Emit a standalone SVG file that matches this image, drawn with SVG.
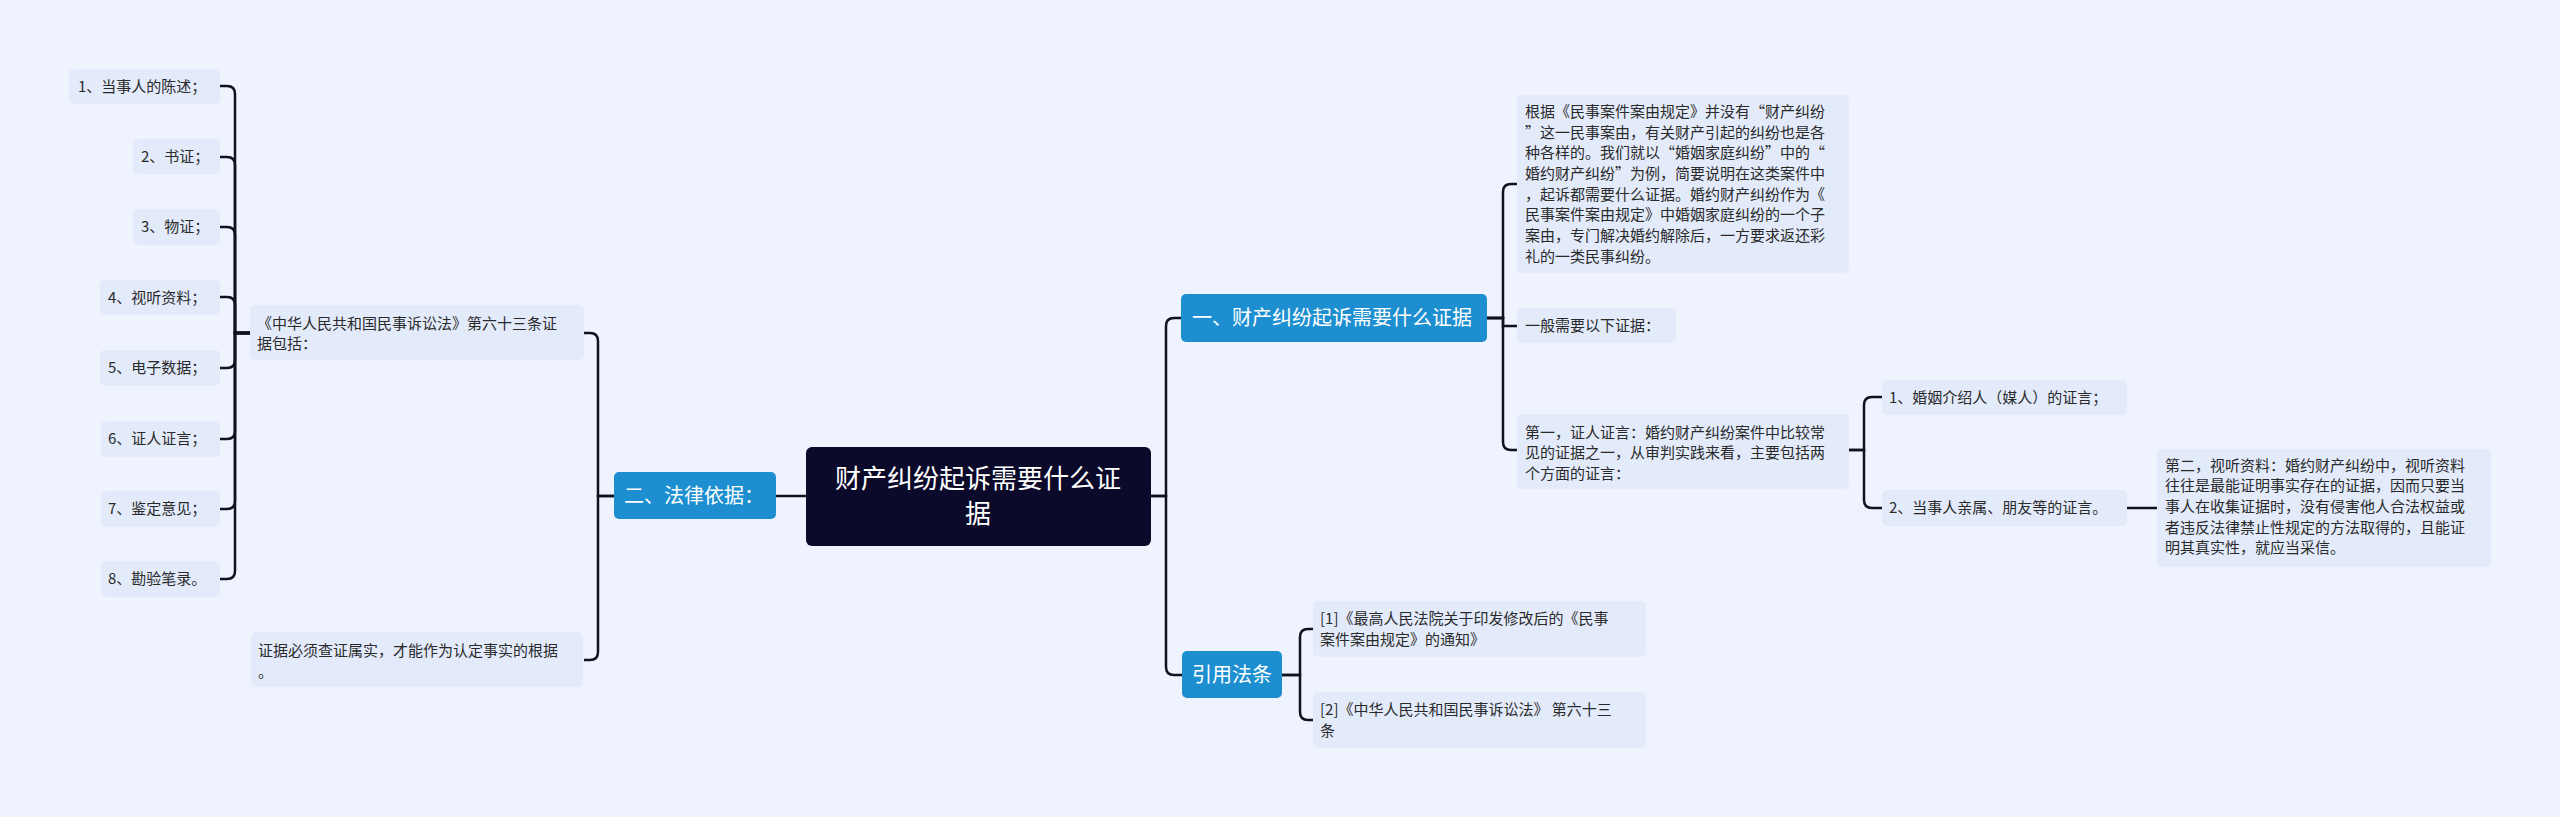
<svg xmlns="http://www.w3.org/2000/svg" width="2560" height="817" viewBox="0 0 2560 817">
<style>
text{font-family:"Noto Sans CJK SC","Liberation Sans",sans-serif;}
.leaf{fill:#e3ebfb;}
.lt{font-size:15px;fill:#2a2a2a;}
.blue{fill:#1d8fd0;}
.bt{font-size:20px;fill:#ffffff;}
.c{fill:none;stroke:#111122;stroke-width:2.5;}
</style>
<rect width="2560" height="817" fill="#eef3fe"/>
<g id="connectors">
<path class="c" d="M250,333H235V94Q235,86 227,86H220"/>
<path class="c" d="M250,333H235V165Q235,157 227,157H220"/>
<path class="c" d="M250,333H235V235Q235,227 227,227H220"/>
<path class="c" d="M250,333H235V305Q235,297 227,297H220"/>
<path class="c" d="M250,333H235V360Q235,368 227,368H220"/>
<path class="c" d="M250,333H235V431Q235,439 227,439H220"/>
<path class="c" d="M250,333H235V501Q235,509 227,509H220"/>
<path class="c" d="M250,333H235V571Q235,579 227,579H220"/>
<path class="c" d="M614,496H598V341Q598,333 590,333H584"/>
<path class="c" d="M614,496H598V652Q598,660 590,660H584"/>
<path class="c" d="M806,496H776"/>
<path class="c" d="M1151,496H1166V326Q1166,318 1174,318H1181"/>
<path class="c" d="M1151,496H1166V667Q1166,675 1174,675H1182"/>
<path class="c" d="M1487,318H1503V192Q1503,184 1511,184H1517"/>
<path class="c" d="M1487,318H1503V326H1517"/>
<path class="c" d="M1487,318H1503V442Q1503,450 1511,450H1517"/>
<path class="c" d="M1849,450H1864V405Q1864,397 1872,397H1882"/>
<path class="c" d="M1849,450H1864V500Q1864,508 1872,508H1882"/>
<path class="c" d="M2127,508H2157"/>
<path class="c" d="M1282,675H1300V637Q1300,629 1308,629H1313"/>
<path class="c" d="M1282,675H1300V712Q1300,720 1308,720H1313"/>
</g>
<g id="root"><rect x="806" y="447" width="345" height="99" rx="6" fill="#0b0a2a"/>
<text x="978" y="488" font-size="26" fill="#fff" text-anchor="middle">财产纠纷起诉需要什么证</text>
<text x="978" y="523" font-size="26" fill="#fff" text-anchor="middle">据</text></g>
<g id="n2"><rect class="blue" x="614" y="472" width="162" height="47" rx="5"/><text class="bt" x="624" y="503">二、法律依据：</text></g>
<g id="n1"><rect class="blue" x="1181" y="294" width="306" height="48" rx="5"/><text class="bt" x="1192" y="325">一、财产纠纷起诉需要什么证据</text></g>
<g id="n3"><rect class="blue" x="1182" y="651" width="100" height="47" rx="5"/><text class="bt" x="1192" y="682">引用法条</text></g>
<g id="i1"><rect class="leaf" x="69" y="69" width="151" height="35" rx="5"/><text class="lt" x="78" y="92">1、当事人的陈述；</text></g>
<g id="i2"><rect class="leaf" x="133" y="139" width="87" height="35" rx="5"/><text class="lt" x="141" y="162">2、书证；</text></g>
<g id="i3"><rect class="leaf" x="133" y="209" width="87" height="36" rx="5"/><text class="lt" x="141" y="232">3、物证；</text></g>
<g id="i4"><rect class="leaf" x="100" y="280" width="120" height="35" rx="5"/><text class="lt" x="108" y="303">4、视听资料；</text></g>
<g id="i5"><rect class="leaf" x="100" y="350" width="120" height="36" rx="5"/><text class="lt" x="108" y="373">5、电子数据；</text></g>
<g id="i6"><rect class="leaf" x="101" y="421" width="119" height="36" rx="5"/><text class="lt" x="108" y="444">6、证人证言；</text></g>
<g id="i7"><rect class="leaf" x="101" y="491" width="119" height="36" rx="5"/><text class="lt" x="108" y="514">7、鉴定意见；</text></g>
<g id="i8"><rect class="leaf" x="101" y="561" width="119" height="36" rx="5"/><text class="lt" x="108" y="584">8、勘验笔录。</text></g>
<g id="law"><rect class="leaf" x="250" y="305" width="334" height="55" rx="5"/>
<text class="lt" x="257" y="329">《中华人民共和国民事诉讼法》第六十三条证</text><text class="lt" x="257" y="349">据包括：</text></g>
<g id="verify"><rect class="leaf" x="251" y="632" width="332" height="55" rx="5"/>
<text class="lt" x="258" y="656">证据必须查证属实，才能作为认定事实的根据</text><text class="lt" x="258" y="677">。</text></g>
<g id="r1"><rect class="leaf" x="1517" y="95" width="332" height="178" rx="5"/>
<text class="lt" x="1525" y="117">根据《民事案件案由规定》并没有“财产纠纷</text>
<text class="lt" x="1525" y="138">”这一民事案由，有关财产引起的纠纷也是各</text>
<text class="lt" x="1525" y="158">种各样的。我们就以“婚姻家庭纠纷”中的“</text>
<text class="lt" x="1525" y="179">婚约财产纠纷”为例，简要说明在这类案件中</text>
<text class="lt" x="1525" y="200">，起诉都需要什么证据。婚约财产纠纷作为《</text>
<text class="lt" x="1525" y="220">民事案件案由规定》中婚姻家庭纠纷的一个子</text>
<text class="lt" x="1525" y="241">案由，专门解决婚约解除后，一方要求返还彩</text>
<text class="lt" x="1525" y="262">礼的一类民事纠纷。</text></g>
<g id="r2"><rect class="leaf" x="1517" y="308" width="159" height="35" rx="5"/><text class="lt" x="1525" y="331">一般需要以下证据：</text></g>
<g id="r3"><rect class="leaf" x="1517" y="414" width="332" height="75" rx="5"/>
<text class="lt" x="1525" y="438">第一，证人证言：婚约财产纠纷案件中比较常</text>
<text class="lt" x="1525" y="458">见的证据之一，从审判实践来看，主要包括两</text>
<text class="lt" x="1525" y="479">个方面的证言：</text></g>
<g id="w1"><rect class="leaf" x="1882" y="380" width="245" height="35" rx="5"/><text class="lt" x="1889" y="403">1、婚姻介绍人（媒人）的证言；</text></g>
<g id="w2"><rect class="leaf" x="1882" y="490" width="245" height="36" rx="5"/><text class="lt" x="1889" y="513">2、当事人亲属、朋友等的证言。</text></g>
<g id="av"><rect class="leaf" x="2157" y="449" width="334" height="118" rx="5"/>
<text class="lt" x="2165" y="471">第二，视听资料：婚约财产纠纷中，视听资料</text>
<text class="lt" x="2165" y="491">往往是最能证明事实存在的证据，因而只要当</text>
<text class="lt" x="2165" y="512">事人在收集证据时，没有侵害他人合法权益或</text>
<text class="lt" x="2165" y="533">者违反法律禁止性规定的方法取得的，且能证</text>
<text class="lt" x="2165" y="553">明其真实性，就应当采信。</text></g>
<g id="ref1"><rect class="leaf" x="1313" y="601" width="333" height="56" rx="5"/>
<text class="lt" x="1320" y="624">[1]《最高人民法院关于印发修改后的《民事</text><text class="lt" x="1320" y="645">案件案由规定》的通知》</text></g>
<g id="ref2"><rect class="leaf" x="1313" y="692" width="333" height="56" rx="5"/>
<text class="lt" x="1320" y="715">[2]《中华人民共和国民事诉讼法》 第六十三</text><text class="lt" x="1320" y="736">条</text></g>
</svg>
